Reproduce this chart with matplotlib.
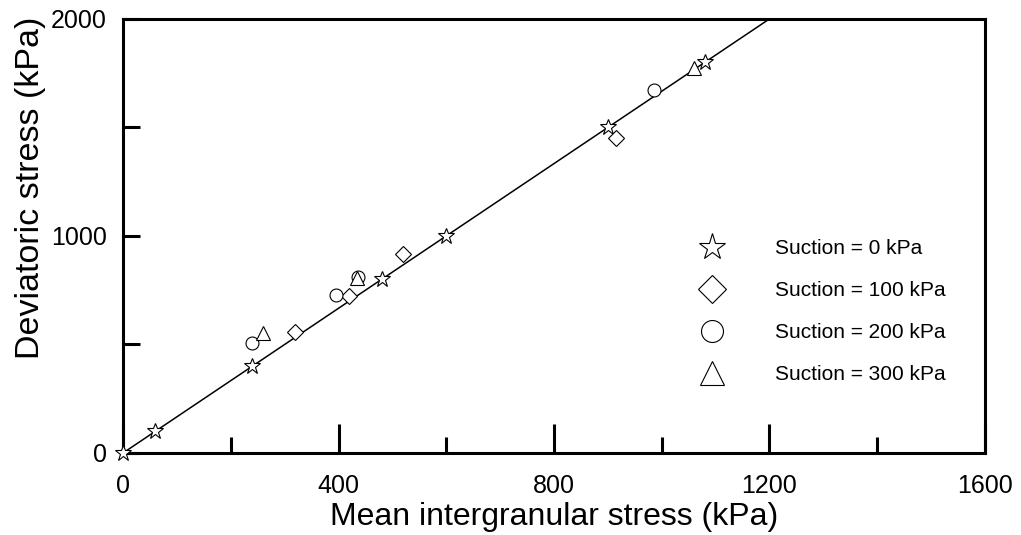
import matplotlib
matplotlib.use("Agg")
import matplotlib.pyplot as plt
import numpy as np
from matplotlib.ticker import MultipleLocator

plt.rcParams['font.family'] = ['Liberation Sans', 'DejaVu Sans']

# Data (mean intergranular stress p', deviatoric stress q), kPa
s0_p = [0, 60, 240, 480, 600, 900, 1080]
s0_q = [0, 100, 400, 800, 1000, 1500, 1800]
s100_p = [320, 420, 520, 916]
s100_q = [557, 723, 917, 1452]
s200_p = [239, 395, 437, 985]
s200_q = [507, 728, 811, 1673]
s300_p = [260, 435, 1059]
s300_q = [553, 806, 1774]
fit_slope = 1.667
fit_p = np.array([0, 1200])

labels = ["Suction = 0 kPa", "Suction = 100 kPa", "Suction = 200 kPa", "Suction = 300 kPa"]

fig = plt.figure(figsize=(10.21, 5.35), dpi=100)
ax = fig.add_axes([0.1205, 0.1533, 0.8442, 0.8112])

ax.plot(fit_p, fit_slope * fit_p, color='black', lw=1.1, zorder=2)

mk = dict(linestyle='none', markerfacecolor='white', markeredgecolor='black', markeredgewidth=0.8,
          zorder=3.5, clip_on=False)
ax.plot(s0_p, s0_q, marker='*', markersize=12, label=labels[0], **mk)
ax.plot(s100_p, s100_q, marker='D', markersize=8.3, label=labels[1], **mk)
ax.plot(s200_p, s200_q, marker='o', markersize=9.3, label=labels[2], **mk)
ax.plot(s300_p, s300_q, marker='^', markersize=10, label=labels[3], **mk)

ax.set_xlim(0, 1600)
ax.set_ylim(0, 2000)
ax.xaxis.set_major_locator(MultipleLocator(400))
ax.xaxis.set_minor_locator(MultipleLocator(200))
ax.yaxis.set_major_locator(MultipleLocator(1000))
ax.yaxis.set_minor_locator(MultipleLocator(500))

for sp in ax.spines.values():
    sp.set_linewidth(2.2)

ax.tick_params(axis='x', which='major', direction='in', length=21, width=2.2, labelsize=18, pad=15)
ax.tick_params(axis='x', which='minor', direction='in', length=11.5, width=2.2)
ax.tick_params(axis='y', which='both', direction='in', length=12, width=2.2, labelsize=18, pad=11.5)

ax.set_xlabel("Mean intergranular stress (kPa)", fontsize=23)
ax.xaxis.set_label_coords(0.5, -0.166, transform=ax.transAxes)
ax.xaxis.label.set_va('baseline')
ax.set_ylabel("Deviatoric stress (kPa)", fontsize=24.5)
ax.yaxis.set_label_coords(-0.1075, 0.61, transform=ax.transAxes)
ax.yaxis.label.set_va('center')

leg = ax.legend(loc='center left', bbox_to_anchor=(0.662, 0.326), frameon=False, fontsize=15,
                markerscale=1.7, handlelength=1.0, handletextpad=2.5, labelspacing=1.1,
                borderaxespad=0)

fig.savefig("out.png", dpi=100)
